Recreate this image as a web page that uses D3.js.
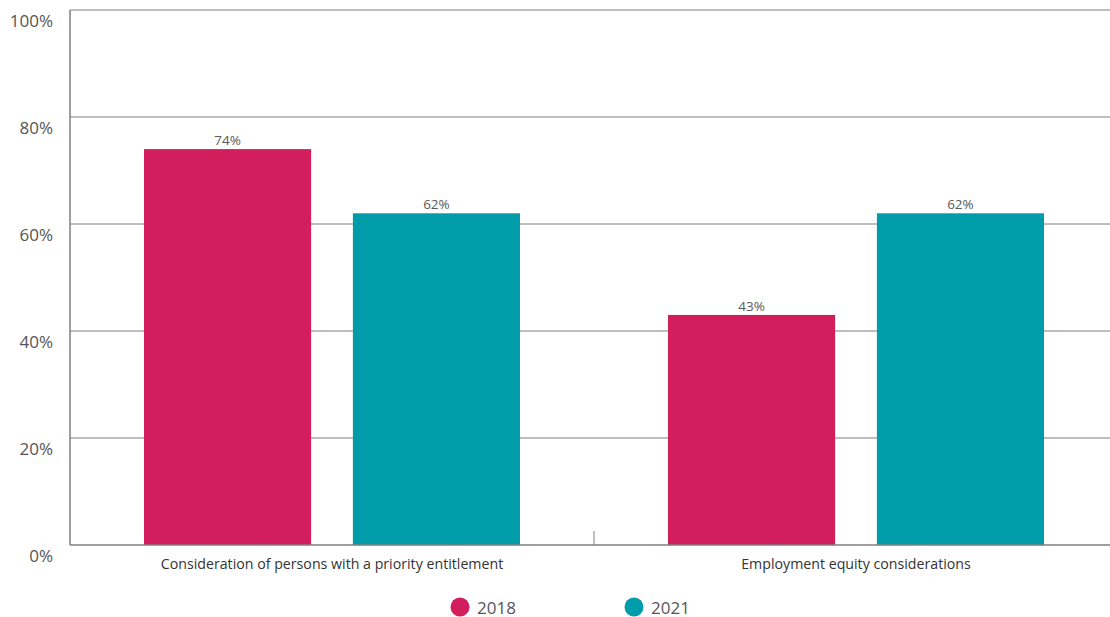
<!DOCTYPE html>
<html>
<head>
<meta charset="utf-8">
<script src="https://cdn.jsdelivr.net/npm/d3@7"></script>
<style>
  html, body { margin: 0; padding: 0; background: #fff; }
  svg { display: block; font-family: "Open Sans", "Noto Sans", sans-serif; }
</style>
</head>
<body>
<svg id="chart" width="1110" height="617"></svg>
<script>
const categories = ["Consideration of persons with a priority entitlement", "Employment equity considerations"];
const seriesNames = ["2018", "2021"];
const values2018 = [74, 43];
const values2021 = [62, 62];
const yTicks = [0, 20, 40, 60, 80, 100];
const colors = ["#d31e5e", "#009ca9"];

const svg = d3.select("#chart");
const plotLeft = 70, plotRight = 1118, plotTop = 10, plotBottom = 545;

const x0 = d3.scaleBand().domain(categories).range([plotLeft, plotRight]).paddingInner(0).paddingOuter(0);
const x1 = d3.scaleBand().domain(seriesNames).range([74, x0.bandwidth() - 74]).paddingInner(0.2);
const y = d3.scaleLinear().domain([0, 100]).range([plotBottom, plotTop]);

// horizontal gridlines
svg.append("g")
  .selectAll("line")
  .data(yTicks.filter(d => d > 0))
  .join("line")
  .attr("x1", plotLeft).attr("x2", 1110)
  .attr("y1", d => y(d)).attr("y2", d => y(d))
  .attr("stroke", "#7f7f7f").attr("stroke-width", 1);

// y tick labels sit just below their gridline
svg.append("g")
  .selectAll("text")
  .data(yTicks)
  .join("text")
  .attr("x", 53)
  .attr("y", d => y(d) + 17)
  .attr("text-anchor", "end")
  .attr("font-size", 17)
  .attr("font-weight", 500)
  .attr("fill", "#555")
  .text(d => d + "%");

// bars
const rows = categories.map((c, i) => ({ cat: c, vals: [values2018[i], values2021[i]] }));
const groups = svg.append("g").selectAll("g")
  .data(rows)
  .join("g")
  .attr("transform", d => `translate(${x0(d.cat)},0)`);

groups.selectAll("rect")
  .data(d => d.vals.map((v, j) => ({ key: seriesNames[j], v, j })))
  .join("rect")
  .attr("x", d => x1(d.key))
  .attr("width", x1.bandwidth())
  .attr("y", d => y(d.v))
  .attr("height", d => y(0) - y(d.v))
  .attr("fill", d => colors[d.j]);

groups.selectAll("text.val")
  .data(d => d.vals.map((v, j) => ({ key: seriesNames[j], v, j })))
  .join("text")
  .attr("class", "val")
  .attr("x", d => x1(d.key) + x1.bandwidth() / 2)
  .attr("y", d => y(d.v) - 4)
  .attr("text-anchor", "middle")
  .attr("font-size", 13.5)
  .attr("fill", "#595959")
  .text(d => d.v + "%");

// axis lines
svg.append("line")
  .attr("x1", plotLeft).attr("x2", plotLeft).attr("y1", plotTop).attr("y2", plotBottom)
  .attr("stroke", "#7f7f7f").attr("stroke-width", 1.5);
svg.append("line")
  .attr("x1", plotLeft).attr("x2", 1110).attr("y1", plotBottom).attr("y2", plotBottom)
  .attr("stroke", "#7f7f7f").attr("stroke-width", 1.5);

// divider tick between categories
svg.append("line")
  .attr("x1", x0(categories[1])).attr("x2", x0(categories[1]))
  .attr("y1", plotBottom - 14).attr("y2", plotBottom)
  .attr("stroke", "#7f7f7f").attr("stroke-width", 1);

// category labels
svg.append("g").selectAll("text")
  .data(categories)
  .join("text")
  .attr("x", d => x0(d) + x0.bandwidth() / 2)
  .attr("y", 569)
  .attr("text-anchor", "middle")
  .attr("font-size", 14.2)
  .attr("fill", "#333")
  .text(d => d);

// legend
const legendX = [460, 634];
const legend = svg.append("g").selectAll("g")
  .data(seriesNames)
  .join("g")
  .attr("transform", (d, i) => `translate(${legendX[i]},607)`);
legend.append("circle").attr("r", 9.5).attr("fill", (d, i) => colors[i]);
legend.append("text")
  .attr("x", 17).attr("y", 6.5)
  .attr("font-size", 17)
  .attr("fill", "#555")
  .text(d => d);
</script>
</body>
</html>
